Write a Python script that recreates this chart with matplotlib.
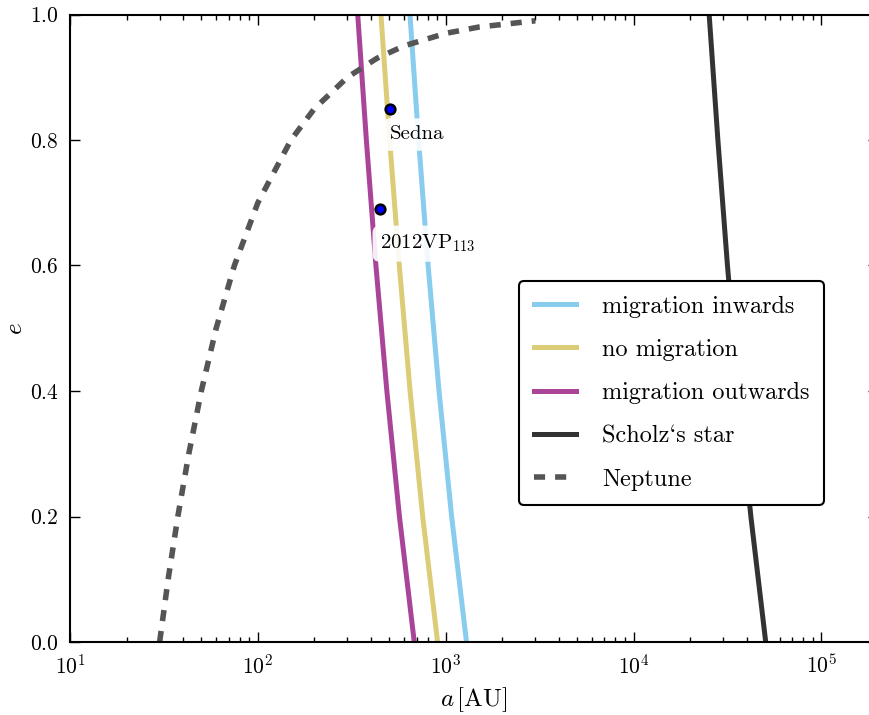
import matplotlib
matplotlib.use('Agg')
import matplotlib.pyplot as plt

plt.rcParams['font.family'] = ['cmr10', 'DejaVu Serif']
plt.rcParams['mathtext.fontset'] = 'cm'
plt.rcParams['axes.formatter.use_mathtext'] = True

# eccentricity grid for the constant-aphelion curves
e_pts = [0.0, 0.2, 0.4, 0.6, 0.8, 1.0]
a_inwards = [1290, 1075, 921, 806, 717, 645]
a_nomig = [905, 754, 646, 566, 503, 452]
a_outwards = [680, 567, 486, 425, 378, 340]
a_scholz = [50500, 42100, 36100, 31600, 28100, 25250]

# Neptune curve
e_nep = [0.0, 0.1, 0.2, 0.3, 0.4, 0.5, 0.6, 0.7, 0.8, 0.85, 0.9, 0.93, 0.95, 0.97, 0.98, 0.99]
a_nep = [30, 33.3, 37.5, 42.9, 50, 60, 75, 100, 150, 200, 300, 429, 600, 1000, 1500, 3000]

# objects
obj_names = ['Sedna', '2012VP$_{113}$']
obj_a = [507, 446]
obj_e = [0.85, 0.69]

fig = plt.figure(figsize=(8.7, 7.15), dpi=100)
ax = fig.add_axes([70/870, 73/715, 808/870, 627.5/715])

ax.plot(a_inwards, e_pts, color='#88CCEE', lw=3.6, label='migration inwards')
ax.plot(a_nomig, e_pts, color='#DDCC77', lw=3.6, label='no migration')
ax.plot(a_outwards, e_pts, color='#AA4499', lw=3.6, label='migration outwards')
ax.plot(a_scholz, e_pts, color='#333333', lw=3.6, label='Scholz`s star')
ax.plot(a_nep, e_nep, color='#555555', lw=4, linestyle=(0, (2, 1.8)), label='Neptune')

ax.plot(obj_a, obj_e, 'o', color='blue', mec='black', mew=1.8, ms=7, zorder=5)
ax.text(obj_a[0], obj_e[0] - 0.027, obj_names[0], fontsize=15, ha='left', va='top',
        bbox=dict(boxstyle='round,pad=0.35', fc='white', ec='none', alpha=0.9), zorder=4)
ax.text(obj_a[1], obj_e[1] - 0.038, obj_names[1], fontsize=15, ha='left', va='top',
        bbox=dict(boxstyle='round,pad=0.35', fc='white', ec='none', alpha=0.9), zorder=4)

ax.set_xscale('log')
ax.set_xlim(10, 2e5)
ax.set_ylim(0, 1)
ax.set_xlabel('$a\\,[\\mathrm{AU}]$', fontsize=18, labelpad=6)
ax.set_ylabel('$e$', fontsize=18, labelpad=2)

ax.tick_params(which='both', direction='in', top=True, right=True, labelsize=15.5)
ax.tick_params(which='major', length=7, width=1, pad=8)
ax.tick_params(which='minor', length=3.5, width=1)
for s in ax.spines.values():
    s.set_linewidth(1.5)

leg = ax.legend(loc='lower right', bbox_to_anchor=(0.933, 0.218), borderaxespad=0,
                fontsize=17.5, fancybox=True, handlelength=1.75, handletextpad=1.05,
                labelspacing=0.87, borderpad=0.6)
leg.get_frame().set_edgecolor('black')
leg.get_frame().set_linewidth(1.5)
leg.get_frame().set_alpha(1)

plt.savefig('out.png', dpi=100)
